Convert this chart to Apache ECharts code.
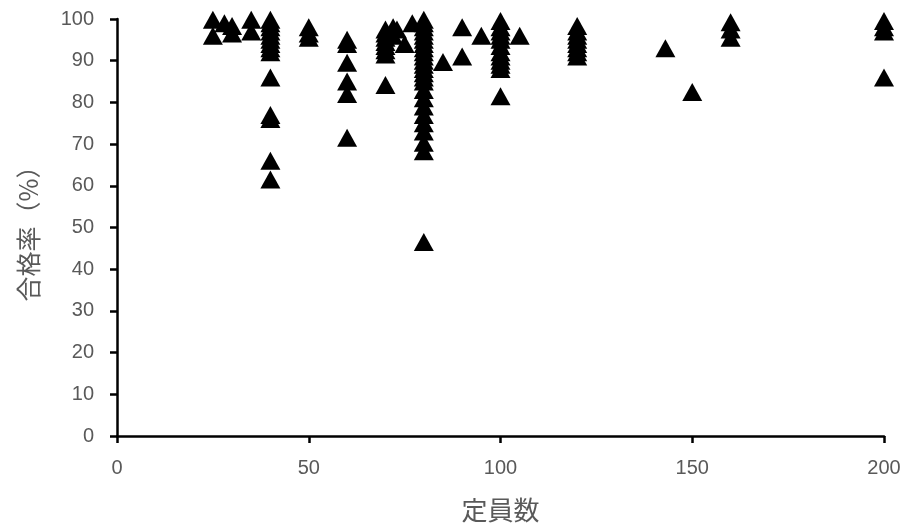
<!DOCTYPE html>
<html>
<head>
<meta charset="utf-8">
<script src="https://cdn.jsdelivr.net/npm/echarts@6/dist/echarts.min.js"></script>
<style>
html,body{margin:0;padding:0;background:#fff;}
#chart{width:906px;height:531px;}
</style>
</head>
<body>
<div id="chart"></div>
<script>
// 定員数 (x) and 合格率 (y) pairs
const staff = [
  25,25,
  28,
  30,30,
  35,35,
  40,40,40,40,40,40,40,40,40,40,40,40,40,40,
  50,50,50,
  60,60,60,60,60,60,
  70,70,70,70,70,70,70,70,
  72,72,
  73,
  75,
  77,
  80,80,80,80,80,80,80,80,80,80,80,80,80,80,80,80,80,80,80,80,80,80,80,80,80,
  85,
  90,90,
  95,
  100,100,100,100,100,100,100,100,100,100,100,100,
  105,
  120,120,120,120,120,120,120,120,
  143,
  150,
  160,160,160,
  200,200,200,200
];
const passRate = [
  99.8,96,
  99,
  98.3,96.5,
  99.8,97,
  99.8,99,98,97,96,95,94,93,92,86,77,76,66,61.5,
  98,96.5,95.5,
  95,94,89.5,85,82,71.5,
  97.5,96.5,95.5,94.5,93.5,92.5,91.5,84.2,
  98,96,
  97.5,
  94,
  99,
  99.8,99,98,97,96,95,94,93,92,91,90,89,88,87,86,85,83,81,79,77,75,73,70.3,68.3,46.5,
  89.7,
  98,91,
  96,
  99.5,98,97,96,95,93.5,92,91,90,89,88,81.5,
  96,
  98.3,97,96,95,94,93,92,91,
  93,
  82.5,
  99.2,97.5,95.5,
  99.5,98,97,86
];
const xTicks = {min: 0, max: 200, interval: 50};
const yTicks = {min: 0, max: 100, interval: 10};

const points = staff.map((x, i) => [x, passRate[i]]);
const gray = '#595959';
const labelFont = 'Liberation Sans, Arial, sans-serif';
const cjkFont = '"Noto Sans CJK JP", "Noto Sans CJK SC", sans-serif';

const chart = echarts.init(document.getElementById('chart'), null, {renderer: 'canvas'});
chart.setOption({
  animation: false,
  backgroundColor: '#ffffff',
  grid: {left: 117, right: 22, top: 19, bottom: 95, containLabel: false},
  xAxis: {
    type: 'value',
    min: xTicks.min, max: xTicks.max, interval: xTicks.interval,
    name: '定員数',
    nameLocation: 'middle',
    nameGap: 61,
    nameTextStyle: {color: gray, fontSize: 26, fontFamily: cjkFont},
    axisLine: {show: true, onZero: false, lineStyle: {color: '#000', width: 2.5}},
    axisTick: {show: true, inside: false, length: 7, lineStyle: {color: '#000', width: 2.5}},
    axisLabel: {color: gray, fontSize: 20, fontFamily: labelFont, margin: 22},
    splitLine: {show: false}
  },
  yAxis: {
    type: 'value',
    min: yTicks.min, max: yTicks.max, interval: yTicks.interval,
    name: '合格率（%）',
    nameLocation: 'middle',
    nameGap: 76,
    nameTextStyle: {color: gray, fontSize: 25, fontFamily: cjkFont},
    axisLine: {show: true, onZero: false, lineStyle: {color: '#000', width: 2.5}},
    axisTick: {show: true, inside: false, length: 7, lineStyle: {color: '#000', width: 2.5}},
    axisLabel: {color: gray, fontSize: 20, fontFamily: labelFont, margin: 23},
    splitLine: {show: false}
  },
  series: [{
    type: 'scatter',
    data: points,
    symbol: 'triangle',
    symbolSize: [20, 18],
    itemStyle: {color: '#000', opacity: 1},
    silent: true
  }]
});
</script>
</body>
</html>
